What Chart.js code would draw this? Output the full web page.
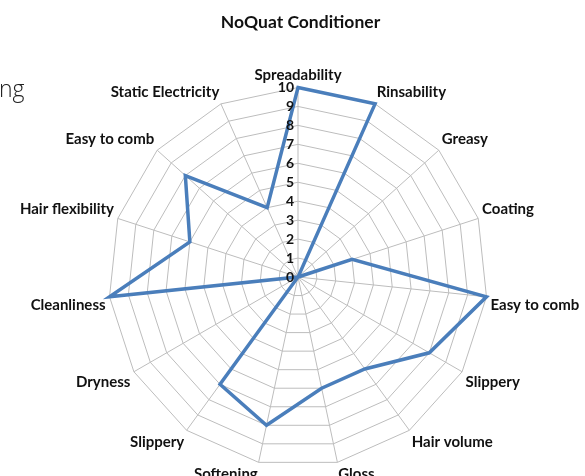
<!DOCTYPE html>
<html>
<head>
<meta charset="utf-8">
<script src="https://cdn.jsdelivr.net/npm/chart.js@4.4.1/dist/chart.umd.min.js"></script>
<style>
  html, body { margin: 0; padding: 0; background: #ffffff; overflow: hidden; }
  #wrap { position: relative; width: 585px; height: 476px; overflow: hidden; }
  #cut { position: absolute; left: -1px; top: 72px; font-family: 'Open Sans', sans-serif; font-weight: 300; font-size: 23px; color: #222; }
  canvas { position: absolute; left: 0; top: 0; }
</style>
</head>
<body>
<div id="wrap">
  <!-- canvas runs a little past the bottom edge so the lowest labels get clipped like the original -->
  <canvas id="radarChart" width="585" height="485"></canvas>
  <div id="cut">ng</div>
</div>
<script>
// Chart data
const attributes = [
    'Spreadability', 'Rinsability', 'Greasy', 'Coating', 'Easy to comb',
    'Slippery', 'Hair volume', 'Gloss', 'Softening', 'Slippery',
    'Dryness', 'Cleanliness', 'Hair flexibility', 'Easy to comb', 'Static Electricity'
];
const scores = [10, 10, 0, 3, 10, 8, 6, 6, 8, 7, 0, 10, 6, 8, 4];
const tickValues = [0, 1, 2, 3, 4, 5, 6, 7, 8, 9, 10];

const labelFont = 'Lato, "Noto Sans", sans-serif';

// Excel-style tick labels, drawn just left of the top axis
const tickLabelPlugin = {
    id: 'tickLabels',
    afterDraw(chart) {
        const scale = chart.scales.r;
        const ctx = chart.ctx;
        ctx.save();
        ctx.font = 'bold 14px ' + labelFont;
        ctx.fillStyle = '#111111';
        ctx.textAlign = 'right';
        ctx.textBaseline = 'middle';
        tickValues.forEach(function(v) {
            const d = scale.getDistanceFromCenterForValue(v);
            ctx.fillText(String(v), scale.xCenter - 4, scale.yCenter - d);
        });
        ctx.restore();
    }
};

const ctx = document.getElementById('radarChart');
new Chart(ctx, {
    type: 'radar',
    data: {
        labels: attributes,
        datasets: [{
            label: 'NoQuat Conditioner',
            data: scores,
            borderColor: '#4a7ebb',
            borderWidth: 3.5,
            fill: false,
            pointRadius: 0,
            tension: 0
        }]
    },
    options: {
        responsive: false,
        animation: false,
        layout: {
            padding: { left: 16, right: 0, top: 0, bottom: 0 }
        },
        plugins: {
            legend: { display: false },
            tooltip: { enabled: false },
            title: {
                display: true,
                text: 'NoQuat Conditioner',
                color: '#111111',
                font: { family: labelFont, size: 17.5, weight: 'bold' },
                padding: { top: 12, bottom: 32 }
            }
        },
        scales: {
            r: {
                min: 0,
                max: 10,
                ticks: { stepSize: 1, display: false },
                grid: { color: '#bdbdbd', lineWidth: 1 },
                angleLines: { color: '#bdbdbd', lineWidth: 1 },
                pointLabels: {
                    color: '#111111',
                    padding: 4,
                    font: { family: labelFont, size: 15, weight: 'bold', lineHeight: 1.1 }
                }
            }
        }
    },
    plugins: [tickLabelPlugin]
});
</script>
</body>
</html>
